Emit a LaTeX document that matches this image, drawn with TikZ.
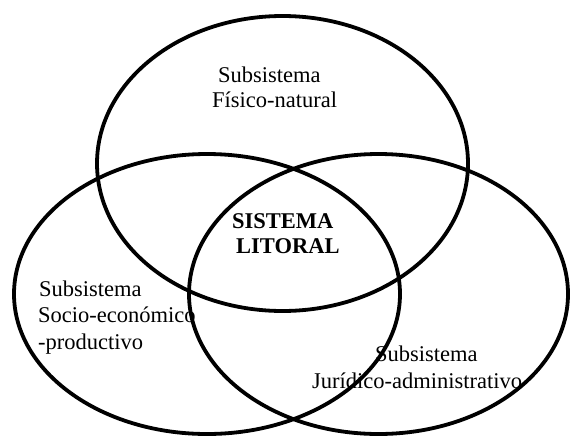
\documentclass[tikz,border=0pt]{standalone}
\usepackage{fontspec}
\setmainfont{Liberation Serif}
\begin{document}
\begin{tikzpicture}[x=1pt,y=-1pt,
  ring/.style={line width=3.8pt,draw=black},
  lbl/.style={anchor=base west,inner sep=0pt,font=\fontsize{22.5}{25}\selectfont},
  blbl/.style={lbl,font=\fontsize{22.5}{25}\selectfont\bfseries}]
\useasboundingbox (0,0) rectangle (570,437);
\fill[white] (0,0) rectangle (570,437);
% ellipses
\draw[ring] (282.5,163.5) ellipse [x radius=185.5pt, y radius=147.5pt];
\draw[ring] (207,294) ellipse [x radius=193pt, y radius=140pt];
\draw[ring] (378.5,294) ellipse [x radius=189.5pt, y radius=140pt];
% top labels
\node[lbl] (t1) at (218,82) {Subsistema};
\node[lbl] (t2) at (212,107) {Físico-natural};
% center
\node[blbl] (c1) at (232,228) {SISTEMA};
\node[blbl] (c2) at (236,253) {LITORAL};
% left
\node[lbl] (l1) at (39,296) {Subsistema};
\node[lbl] (l2) at (38,322.5) {Socio-económico};
\node[lbl] (l3) at (38,349) {-productivo};
% right
\node[lbl] (r1) at (375,361) {Subsistema};
\node[lbl] (r2) at (312,388) {Jurídico-administrativo};
\end{tikzpicture}
\end{document}
